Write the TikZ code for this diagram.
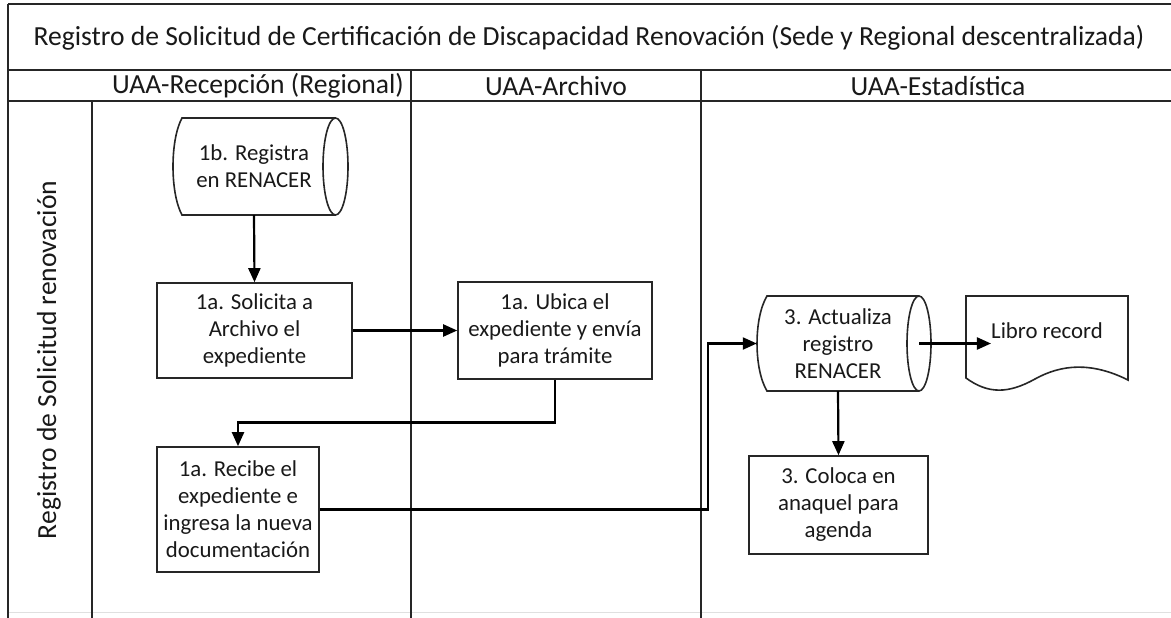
\documentclass[tikz,border=0pt]{standalone}
\usepackage{fontspec}
\setmainfont{Carlito}
\usetikzlibrary{arrows.meta}
\begin{document}
\begin{tikzpicture}[x=1pt,y=-1pt,
  lane/.style={line width=1.6pt,draw=black!85},
  shapeline/.style={draw=black!85,line width=1.6pt},
  stepbox/.style={shapeline,align=center,font=\fontsize{22.8}{27}\selectfont,inner sep=0pt,text=black!90},
  plain/.style={align=center,font=\fontsize{22.8}{27}\selectfont,inner sep=0pt,text=black!90},
  head/.style={font=\fontsize{27.6}{32}\selectfont,inner sep=0pt,text=black!90},
  conn/.style={line width=2.2pt,draw=black,-{Triangle[length=14pt,width=12pt]}},
]
\useasboundingbox (0,0) rectangle (1171,618);
\fill[white] (0,0) rectangle (1171,618);

% frame and lanes
\draw[lane,line width=2pt] (8,4) -- (1171,4);
\draw[lane] (8,70) -- (1171,70);
\draw[lane] (8,101) -- (1171,101);
\draw[black!12,line width=1pt] (8,612) -- (1171,612);
\draw[lane] (8,4) -- (8,618);
\draw[lane] (92,101) -- (92,618);
\draw[lane] (411,70) -- (411,618);
\draw[lane] (701,70) -- (701,618);

% titles
\node[head] (title) at (589,37.5) {Registro de Solicitud de Certificación de Discapacidad Renovación (Sede y Regional descentralizada)};
\node[head] (h1) at (258,86) {UAA-Recepción (Regional)};
\node[head] (h2) at (556,86) {UAA-Archivo};
\node[head] (h3) at (938,86) {UAA-Estadística};
\node[head,rotate=90] (lanelbl) at (49,360) {Registro de Solicitud renovación};

% 1b cylinder
\node[plain,minimum width=162pt,minimum height=97pt] (reg) at (254,166.5) {1b. Registra\\en RENACER};
\draw[shapeline] (335.5,118) -- (182,118) .. controls (170,140) and (170,193) .. (182,215) -- (335.5,215);
\draw[shapeline] (335.5,166.5) ellipse [x radius=12.5pt, y radius=48.5pt];

% boxes
\node[stepbox,minimum width=195pt,minimum height=95pt] (sol) at (254.5,330.5) {1a. Solicita a\\Archivo el\\expediente};
\node[stepbox,minimum width=194pt,minimum height=97pt] (ubi) at (555,330.5) {1a. Ubica el\\expediente y envía\\para trámite};
\node[stepbox,minimum width=162pt,minimum height=125pt] (rec) at (238,509.5) {1a. Recibe el\\expediente e\\ingresa la nueva\\documentación};

% 3 cylinder
\node[plain,minimum width=162pt,minimum height=95pt] (act) at (838,343.5) {3. Actualiza\\registro\\RENACER};
\draw[shapeline] (919,296) -- (767,296) .. controls (753.7,318) and (753.7,369) .. (767,391) -- (919,391);
\draw[shapeline] (919,343.5) ellipse [x radius=12pt, y radius=47.5pt];

\node[stepbox,minimum width=179pt,minimum height=98pt] (col) at (838.5,505) {3. Coloca en\\anaquel para\\agenda};

% document
\node[plain] (lib) at (1047,331) {Libro record};
\draw[shapeline] (966,296) -- (1128,296) -- (1128,380)
  .. controls (1092,362) and (1062,364) .. (1035,379)
  .. controls (1008,394) and (988,394) .. (966,378) -- cycle;

% connectors
\draw[conn] (reg.south) -- (sol.north);
\draw[conn] (sol.east) -- (ubi.west);
\coordinate (b1) at (555,422.5);
\draw[conn] (ubi.south) -- (b1) -| (rec.north);
\coordinate (b2) at (708,509.5);
\draw[conn] (rec.east) -- (b2) |- (act.west);
\draw[conn] (act.east) -- (act.east -| lib.west);
\draw[conn] (act.south) -- (col.north);
\end{tikzpicture}
\end{document}
